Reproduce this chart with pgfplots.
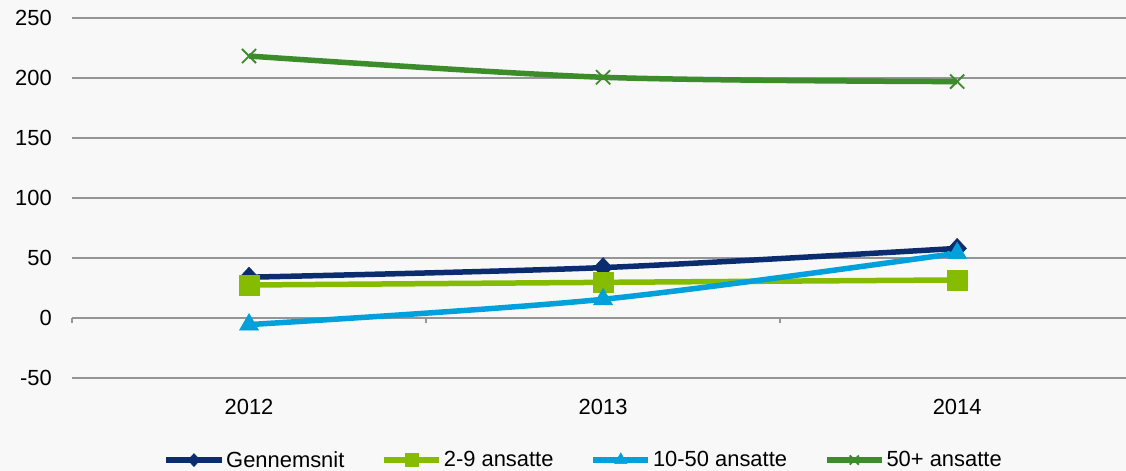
\documentclass[border=0pt]{standalone}
\usepackage{fontspec}
\setmainfont{Liberation Sans}
\usepackage{pgfplots}
\pgfplotsset{compat=1.18}
\definecolor{bgc}{HTML}{F8F8F8}
\definecolor{gridc}{HTML}{959595}
\definecolor{navy}{HTML}{0B2C6F}
\definecolor{lime}{HTML}{86BC00}
\definecolor{sky}{HTML}{00A0DD}
\definecolor{leaf}{HTML}{3C8C2C}
\begin{document}
\begin{tikzpicture}
\fill[bgc] (-72bp,-93bp) rectangle (1054bp,378bp);
\useasboundingbox (-72bp,-93bp) rectangle (1054bp,378bp);
\begin{axis}[
    scale only axis,
    width=1054bp, height=360bp,
    xmin=-0.5, xmax=2.477,
    ymin=-50, ymax=250,
    ytick={-50,0,...,250},
    xtick={0,1,2},
    xticklabels={2012,2013,2014},
    axis line style={draw=none},
    major tick length=0pt,
    ymajorgrids,
    grid style={gridc, line width=1.6bp},
    clip=false,
    font=\fontsize{22}{26}\selectfont,
    /pgf/number format/assume math mode=true,
    yticklabel style={inner sep=0pt, xshift=-20bp},
    xticklabel style={inner sep=0pt, yshift=-21bp},
    legend columns=4,
    legend style={at={(0.4855,-0.228)}, anchor=center, draw=none, fill=none,
        font=\fontsize{22}{26}\selectfont,
        /tikz/every even column/.append style={column sep=35bp},
        inner sep=0pt},
    legend image code/.code={%
        \draw[mark repeat=2, mark phase=2, #1, every mark/.append style={scale=0.65}]
            plot coordinates {(0bp,0bp) (27.5bp,0bp) (55bp,0bp)};},
    every axis plot/.append style={line width=5.5bp, smooth, tension=0.5},
]
\addplot[navy, mark=diamond*, mark size=10bp, mark options={line width=0.5bp, xscale=1.25}]
    coordinates {(0,34) (1,42) (2,58)};
\addlegendentry{Gennemsnit}
\addplot[lime, mark=square*, mark size=10bp, mark options={line width=0.5bp}]
    coordinates {(0,27.5) (1,29.7) (2,31.7)};
\addlegendentry{2-9 ansatte}
\addplot[sky, mark=triangle*, mark size=11bp, mark options={line width=0.5bp}]
    coordinates {(0,-5.5) (1,15.6) (2,54)};
\addlegendentry{10-50 ansatte}
\addplot[leaf, mark=x, mark size=10bp, mark options={line width=1.8bp}]
    coordinates {(0,218.3) (1,200.6) (2,197)};
\addlegendentry{50+ ansatte}
\pgfplotsinvokeforeach{-0.5,0.5,1.5}{
    \draw[gridc, line width=1.6bp] (axis cs:#1,0) -- ([yshift=-5bp]axis cs:#1,0);
}
\end{axis}
\end{tikzpicture}
\end{document}
